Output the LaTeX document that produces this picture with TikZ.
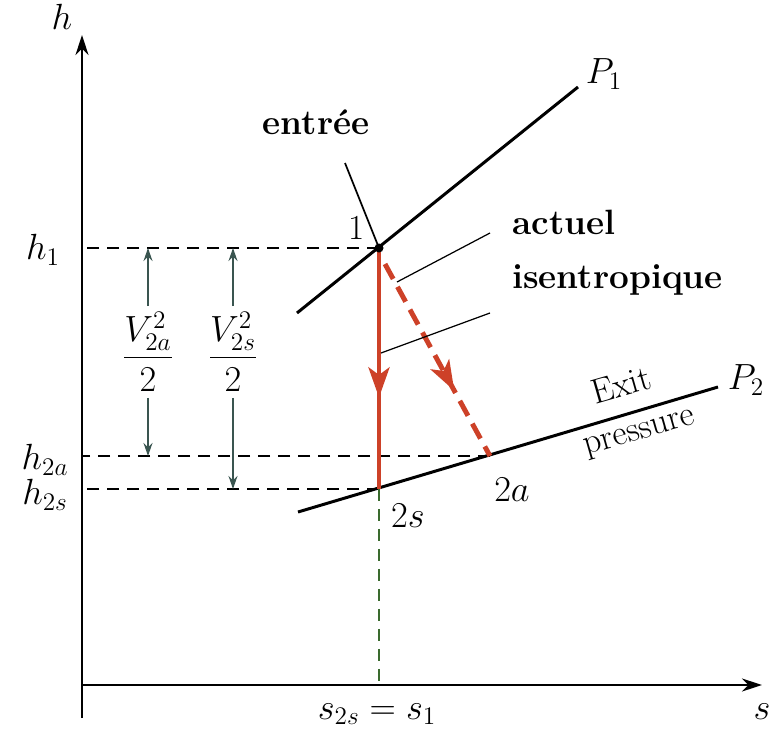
\documentclass[tikz,border=0pt]{standalone}
\usepackage{amsmath}
\usepackage{xcolor}
\usepackage{tikz}
\usetikzlibrary{arrows.meta,positioning,calc,decorations.markings}
\definecolor{flowred}{HTML}{CD4128}
\definecolor{guidegreen}{HTML}{3A6B2E}
\definecolor{dimgray}{HTML}{3A5550}

\begin{document}
\begin{tikzpicture}[
  x=0.02cm,y=-0.02cm,
  font=\fontsize{20}{23}\selectfont,
  axis/.style={line width=1.1pt,-{Stealth[length=4mm,width=2.6mm]}},
  isobar/.style={line width=1.7pt},
  guide/.style={line width=0.8pt,dash pattern=on 0.24cm off 0.16cm},
  dimarr/.style={dimgray,line width=0.7pt,-{Stealth[length=2.6mm,width=1.8mm]}},
  leader/.style={line width=0.7pt},
  tag/.style={font=\fontsize{20}{22}\selectfont\bfseries},
  midarrow/.style={postaction={decorate},decoration={markings,
    mark=at position #1 with {\arrow{Stealth[length=6mm,width=4.2mm,inset=1.5mm]}}}}
]
\useasboundingbox (0,0) rectangle (771,730);
% axes
\coordinate (o) at (82,685);
\draw[axis] (82,718) coordinate (hbot) -- (82,35) coordinate (htop);
\draw[axis] (o) -- (762,685) coordinate (send);
\node (hlab) at (62,17) {$h$};
\node (slab) at (762,712) {$s$};
% states
\coordinate (p1) at (379,248);
\coordinate (p2s) at (379,489);
\coordinate (p2a) at (490,456);
% isobars
\draw[isobar] (297,313) coordinate (a1) -- (578,87) coordinate (b1);
\draw[isobar] (298,512) coordinate (a2) -- (718,387) coordinate (b2);
\node (P1) at (604,74) {$P_1$};
\node (P2) at (746,380) {$P_2$};
\node[rotate=16,inner sep=0pt] (exit) at (621,385) {Exit};
\node[rotate=16,inner sep=0pt] (pres) at (640,435) {pressure};
% inlet
\draw[line width=1pt] (345,163) coordinate (in) -- (p1);
\node[tag] (entree) at (316,122) {entrée};
\node (n1) at (357,228) {1};
% guides
\draw[guide] (p1) -- (o |- p1);
\draw[guide] (p2a) -- (o |- p2a);
\draw[guide] (p2s) -- (o |- p2s);
\draw[guide,guidegreen,line width=1.1pt] (p2s) -- (p2s |- o);
% expansion
\draw[flowred,line width=2.6pt,midarrow=0.62] (p1) -- (p2s);
\draw[flowred,line width=2.8pt,dash pattern=on 0.34cm off 0.18cm,midarrow=0.66] (385,264) coordinate (d1) -- (p2a);
\fill (p1) circle (4.5);
% labels
\node (h1) at (43,250) {$h_1$};
\node (h2a) at (45,460) {$h_{2a}$};
\node (h2s) at (45,495) {$h_{2s}$};
\node (l2s) at (408,516) {$2s$};
\node (l2a) at (512,490) {$2a$};
\node (s1) at (377,714) {$s_{2s} = s_1$};
% kinetic energy
\node (ka) at (148,352) {$\dfrac{V_{2a}^2}{2}$};
\node (ks) at (233,352) {$\dfrac{V_{2s}^2}{2}$};
\draw[dimarr] (ka.north) -- (ka |- p1);
\draw[dimarr] (ka.south) -- (ka |- p2a);
\draw[dimarr] (ks.north) -- (ks |- p1);
\draw[dimarr] (ks.south) -- (ks |- p2s);
% process labels
\node[tag,anchor=west] (act) at (506,222) {actuel};
\node[tag,anchor=west] (isen) at (506,280) {isentropique};
\draw[leader] (490,233) coordinate (la) -- (397,282);
\draw[leader] (490,313) coordinate (lb) -- (381,353);
\end{tikzpicture}
\end{document}
